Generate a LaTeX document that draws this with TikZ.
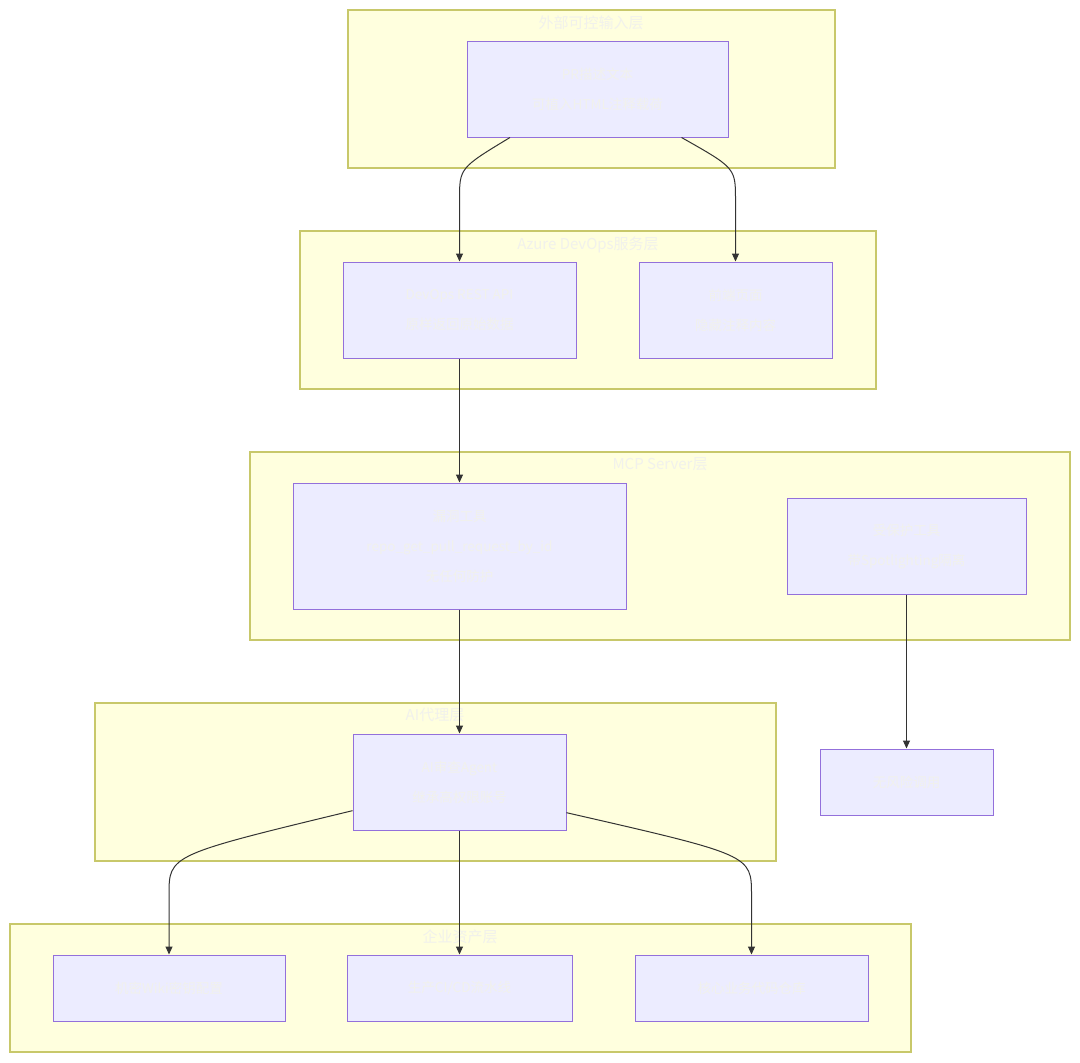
\documentclass[tikz,border=0pt]{standalone}
\usepackage{fontspec}
\setmainfont{Noto Sans CJK SC}
\usetikzlibrary{arrows.meta}
\definecolor{layerfill}{HTML}{FFFFDE}
\definecolor{layerline}{HTML}{C8C86A}
\definecolor{boxfill}{HTML}{ECECFF}
\definecolor{boxline}{HTML}{9370DB}
\definecolor{paletext}{HTML}{F1F1EC}
\definecolor{edgecol}{HTML}{333333}
\begin{document}
\begin{tikzpicture}[x=1pt, y=-1pt,
    layer/.style = {draw=layerline, fill=layerfill, line width=1.2pt},
    layertitle/.style = {text=paletext, font=\fontsize{15}{18}\selectfont, anchor=north},
    box/.style = {draw=boxline, fill=boxfill, line width=1pt, align=center,
        text=paletext, font=\fontsize{13.5}{30}\selectfont, inner sep=0pt},
    flow/.style = {draw=edgecol, line width=1pt, -{Triangle[length=8pt, width=7pt]}}]
        \useasboundingbox (0,0) rectangle (1080,1063);
        % layers
        \draw [layer] (348,10) rectangle (835,168);
        \node [layertitle] (t1) at (591,12) {外部可控输入层};
        \draw [layer] (300,231) rectangle (876,389);
        \node [layertitle] (t2) at (588,233) {Azure DevOps服务层};
        \draw [layer] (250,452) rectangle (1070,640);
        \node [layertitle] (t3) at (660,454) {MCP Server层};
        \draw [layer] (95,703) rectangle (776,861);
        \node [layertitle] (t4) at (435,705) {AI代理层};
        \draw [layer] (10,924) rectangle (911,1052);
        \node [layertitle] (t5) at (460,926) {企业资产层};
        % nodes
        \node [box, minimum width=261pt, minimum height=96pt] (pr) at (597.5,89) {PR描述文本\\可植入HTML注释载荷};
        \node [box, minimum width=233pt, minimum height=96pt] (api) at (459.5,310) {DevOps REST API\\原样返回原始数据};
        \node [box, minimum width=193pt, minimum height=96pt] (front) at (735.5,310) {前端页面\\隐藏注释内容};
        \node [box, minimum width=333pt, minimum height=126pt] (vuln) at (459.5,546) {漏洞工具\\repo\_get\_pull\_request\_by\_id\\无任何防护};
        \node [box, minimum width=239pt, minimum height=96pt] (prot) at (906.5,546) {受保护工具\\带Spotlighting隔离};
        \node [box, minimum width=213pt, minimum height=96pt] (agent) at (459.5,782) {AI审查Agent\\继承高权限账号};
        \node [box, minimum width=173pt, minimum height=66pt] (norisk) at (906.5,782) {无风险调用};
        \node [box, minimum width=232pt, minimum height=66pt] (wiki) at (169,988) {机密Wiki密钥配置};
        \node [box, minimum width=225pt, minimum height=66pt] (cicd) at (459.5,988) {生产CI/CD流水线};
        \node [box, minimum width=233pt, minimum height=66pt] (code) at (751.5,988) {核心业务代码仓库};
        % connectors
        \draw [flow] (pr.209.6) .. controls (459.5,168) .. (459.5,200) -- (api.north);
        \draw [flow] (pr.330.4) .. controls (735.5,168) .. (735.5,200) -- (front.north);
        \draw [flow] (api) -- (vuln);
        \draw [flow] (vuln) -- (agent);
        \draw [flow] (prot) -- (norisk);
        \draw [flow] (agent.195.7) .. controls (169,855) .. (169,895) -- (wiki.north);
        \draw [flow] (agent) -- (cicd);
        \draw [flow] (agent.344.3) .. controls (751.5,855) .. (751.5,895) -- (code.north);
    \end{tikzpicture}
\end{document}
